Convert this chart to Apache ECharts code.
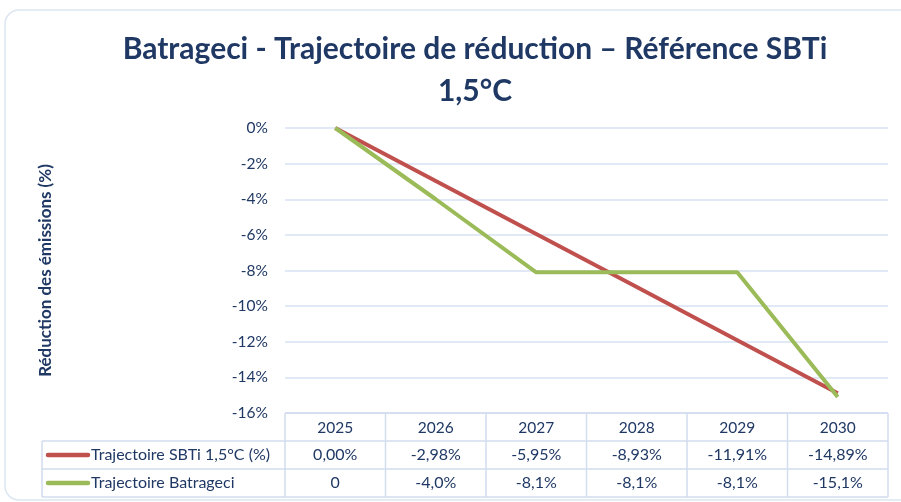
<!DOCTYPE html>
<html>
<head>
<meta charset="utf-8">
<script src="https://cdn.jsdelivr.net/npm/echarts@6/dist/echarts.min.js"></script>
<style>html,body{margin:0;padding:0;background:#fff;}#c{width:901px;height:502px;}</style>
</head>
<body>
<div id="c"></div>
<script>
var categories = ['2025', '2026', '2027', '2028', '2029', '2030'];
var sbtiValues = [0, -2.98, -5.95, -8.93, -11.91, -14.89];
var batrageciValues = [0, -4.0, -8.1, -8.1, -8.1, -15.1];
var sbtiLabels = ['0,00%', '-2,98%', '-5,95%', '-8,93%', '-11,91%', '-14,89%'];
var batrageciLabels = ['0', '-4,0%', '-8,1%', '-8,1%', '-8,1%', '-15,1%'];
var seriesNames = ['Trajectoire SBTi 1,5°C (%)', 'Trajectoire Batrageci'];
var yTicks = [0, -2, -4, -6, -8, -10, -12, -14, -16];

var FONT = 'Lato, "Open Sans", sans-serif';
var TXT = '#1F3864';
var GRIDC = '#D9E2F3';
var BORDER = '#D2DDEF';
var RED = '#C0504D';
var GREEN = '#9BBB59';

var chart = echarts.init(document.getElementById('c'));
chart.setOption({
  animation: false,
  textStyle: { fontFamily: FONT },
  title: {
    text: 'Batrageci - Trajectoire de réduction – Référence SBTi\n1,5°C',
    left: 470, top: 23, textAlign: 'center',
    textStyle: { fontFamily: FONT, fontSize: 30, fontWeight: 'bold', color: TXT, lineHeight: 42 }
  },
  grid: { left: 285, right: 13, top: 128, height: 285 },
  xAxis: {
    type: 'category', data: categories, boundaryGap: true,
    axisLine: { show: false }, axisTick: { show: false },
    axisLabel: { margin: 7, fontSize: 15.5, color: TXT, fontFamily: FONT }
  },
  yAxis: {
    type: 'value', min: -16, max: 0, interval: 2,
    name: 'Réduction des émissions (%)', nameLocation: 'middle', nameGap: 231,
    nameTextStyle: { fontSize: 17, fontWeight: 'bold', color: TXT, fontFamily: FONT },
    axisLabel: { fontSize: 15.5, color: TXT, margin: 17, fontFamily: FONT,
      formatter: function (v) { return yTicks.indexOf(v) >= 0 ? v + '%' : ''; } },
    axisLine: { show: false }, axisTick: { show: false },
    splitLine: { lineStyle: { color: GRIDC, width: 1.5 } }
  },
  series: [
    { name: seriesNames[0], type: 'line', data: sbtiValues, symbol: 'none',
      lineStyle: { color: RED, width: 4 }, itemStyle: { color: RED } },
    { name: seriesNames[1], type: 'line', data: batrageciValues, symbol: 'none',
      lineStyle: { color: GREEN, width: 4 }, itemStyle: { color: GREEN } }
  ]
});

// Data table below the plot
var c0 = chart.convertToPixel({ xAxisIndex: 0 }, 0);
var c1 = chart.convertToPixel({ xAxisIndex: 0 }, 1);
var band = c1 - c0;
var yBase = chart.convertToPixel({ yAxisIndex: 0 }, -16);
var xLeftPlot = c0 - band / 2;
var xRightPlot = xLeftPlot + band * categories.length;
var rowH = 28;
var tableLeft = 42;
var rowsTop = yBase + rowH;
var els = [];
function line(x1, y1, x2, y2, color, w, cap) {
  els.push({ type: 'line', shape: { x1: x1, y1: y1, x2: x2, y2: y2 },
    style: { stroke: color, lineWidth: w || 1.5, lineCap: cap || 'butt' }, silent: true });
}
// card
els.push({ type: 'rect', shape: { x: 5, y: 10, width: 920, height: 490, r: 14 },
  style: { fill: null, stroke: '#DCE6F2', lineWidth: 1.5 }, silent: true, z: -10 });
// horizontal borders
line(xLeftPlot, yBase, xRightPlot, yBase, BORDER);
line(tableLeft, rowsTop, xRightPlot, rowsTop, BORDER);
line(tableLeft, rowsTop + rowH, xRightPlot, rowsTop + rowH, BORDER);
line(tableLeft, rowsTop + 2 * rowH, xRightPlot, rowsTop + 2 * rowH, BORDER);
// vertical borders
line(tableLeft, rowsTop, tableLeft, rowsTop + 2 * rowH, BORDER);
for (var i = 0; i <= categories.length; i++) {
  var x = xLeftPlot + i * band;
  line(x, yBase, x, rowsTop + 2 * rowH, BORDER);
}
// row labels with swatches
var rowColors = [RED, GREEN];
var rowLabels = [sbtiLabels, batrageciLabels];
for (var r = 0; r < 2; r++) {
  var cy = rowsTop + r * rowH + rowH / 2;
  line(48, cy, 88, cy, rowColors[r], 4.5, 'round');
  els.push({ type: 'text', x: 91, y: cy, style: { text: seriesNames[r], fill: TXT,
    font: '16px ' + FONT, textAlign: 'left', textVerticalAlign: 'middle' }, silent: true });
  for (var j = 0; j < categories.length; j++) {
    var cx = chart.convertToPixel({ xAxisIndex: 0 }, j);
    els.push({ type: 'text', x: cx, y: cy, style: { text: rowLabels[r][j], fill: TXT,
      font: '16px ' + FONT, textAlign: 'center', textVerticalAlign: 'middle' }, silent: true });
  }
}
chart.setOption({ graphic: { elements: els } });
</script>
</body>
</html>
